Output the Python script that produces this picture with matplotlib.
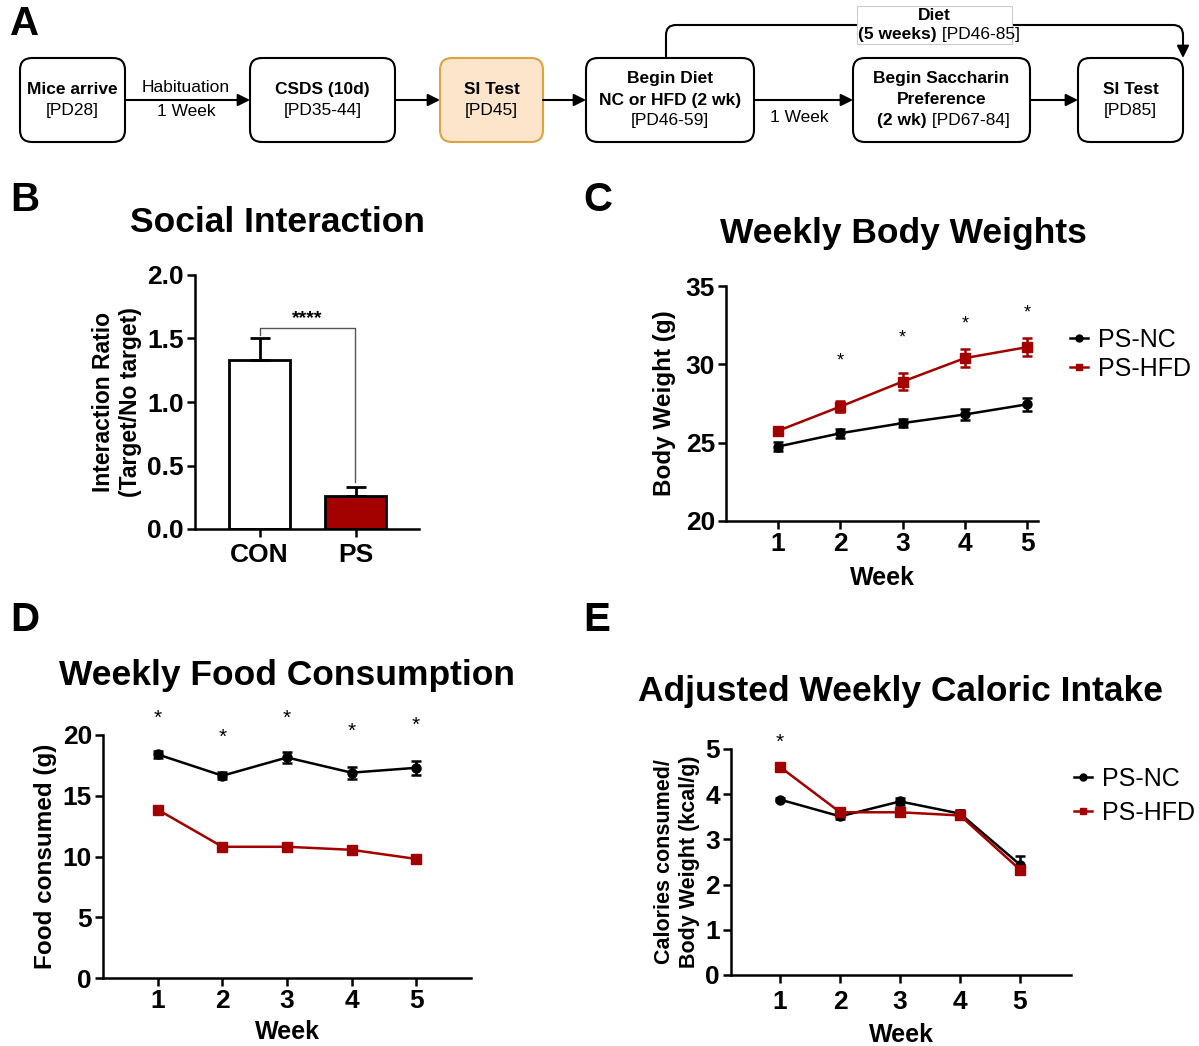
import matplotlib
matplotlib.use('Agg')
import matplotlib.pyplot as plt
from matplotlib.patches import FancyBboxPatch, Rectangle, PathPatch
from matplotlib.path import Path
from matplotlib.lines import Line2D

plt.rcParams['font.family'] = ['Liberation Sans', 'DejaVu Sans']

# ---- data ----
weeks = [1, 2, 3, 4, 5]

si_groups = ['CON', 'PS']
si_ratio = [1.33, 0.26]
si_err = [0.17, 0.07]

bw_nc = [24.75, 25.6, 26.25, 26.8, 27.45]
bw_nc_err = [0.3, 0.3, 0.25, 0.35, 0.4]
bw_hfd = [25.75, 27.3, 28.9, 30.4, 31.1]
bw_hfd_err = [0.25, 0.35, 0.55, 0.55, 0.55]
bw_star_y = [None, 30.2, 31.7, 32.6, 33.3]

food_nc = [18.4, 16.65, 18.15, 16.9, 17.3]
food_nc_err = [0.3, 0.3, 0.45, 0.5, 0.6]
food_hfd = [13.85, 10.8, 10.8, 10.55, 9.8]
food_hfd_err = [0.1, 0.2, 0.1, 0.15, 0.3]
food_star_y = [21.4, 19.8, 21.4, 20.3, 20.8]

cal_nc = [3.88, 3.51, 3.84, 3.57, 2.44]
cal_nc_err = [0.03, 0.05, 0.08, 0.07, 0.2]
cal_hfd = [4.6, 3.6, 3.6, 3.53, 2.33]
cal_hfd_err = [0.03, 0.05, 0.05, 0.05, 0.1]

RED = '#A30000'
W, H = 1199, 1046

fig = plt.figure(figsize=(W / 100, H / 100), dpi=100)


def px_axes(x0, y0, x1, y1):
    return fig.add_axes([x0 / W, 1 - y1 / H, (x1 - x0) / W, (y1 - y0) / H])


# ---- background axes: flowchart + panel letters ----
bg = fig.add_axes([0, 0, 1, 1])
bg.set_xlim(0, W)
bg.set_ylim(H, 0)
bg.set_axis_off()

for letter, (lx, ly) in zip('ABCDE', [(10, 24), (10, 200), (583, 200), (10, 620), (583, 620)]):
    bg.text(lx, ly, letter, fontsize=29, fontweight='bold', va='center', ha='left')

fs = 12.5


def box(x0, x1, lines, face='white', edge='black'):
    p = FancyBboxPatch((x0, 58), x1 - x0, 84, boxstyle='round,pad=0,rounding_size=12',
                       facecolor=face, edgecolor=edge, lw=1.5)
    bg.add_patch(p)
    cx = (x0 + x1) / 2
    n = len(lines)
    for i, (txt, wt) in enumerate(lines):
        y = 100 + (i - (n - 1) / 2) * 21
        bg.text(cx, y, txt, fontsize=fs, fontweight=wt, ha='center', va='center')


def arrow(x0, y0, x1, y1):
    bg.annotate('', xy=(x1, y1), xytext=(x0, y0),
                arrowprops=dict(arrowstyle='-|>', color='black', lw=1.5,
                                mutation_scale=18, shrinkA=0, shrinkB=0))


box(20, 125, [('Mice arrive', 'bold'), ('[PD28]', 'normal')])
box(250, 395, [('CSDS (10d)', 'bold'), ('[PD35-44]', 'normal')])
box(440, 543, [('SI Test', 'bold'), ('[PD45]', 'normal')], face='#FDE5CB', edge='#D9A441')
box(586, 754, [('Begin Diet', 'bold'), ('NC or HFD (2 wk)', 'bold'), ('[PD46-59]', 'normal')])
box(853, 1030, [('Begin Saccharin', 'bold'), ('Preference', 'bold'), ('', 'normal')])
bg.text(927, 121, '(2 wk)', fontsize=fs, fontweight='bold', ha='right', va='center')
bg.text(927, 121, ' [PD67-84]', fontsize=fs, ha='left', va='center')
box(1078, 1183, [('SI Test', 'bold'), ('[PD85]', 'normal')])

arrow(125, 100, 250, 100)
bg.text(186, 88, 'Habituation', fontsize=fs, ha='center', va='center')
bg.text(186, 112, '1 Week', fontsize=fs, ha='center', va='center')
arrow(395, 100, 440, 100)
arrow(543, 100, 586, 100)
arrow(754, 100, 853, 100)
bg.text(799, 117, '1 Week', fontsize=fs, ha='center', va='center')
arrow(1030, 100, 1078, 100)

# diet connector over the top
verts = [(666, 58), (666, 35), (666, 25), (676, 25), (1173, 25), (1183, 25), (1183, 35)]
codes = [Path.MOVETO, Path.LINETO, Path.CURVE3, Path.CURVE3, Path.LINETO, Path.CURVE3, Path.CURVE3]
bg.add_patch(PathPatch(Path(verts, codes), facecolor='none', edgecolor='black', lw=1.5))
arrow(1183, 35, 1183, 58)
bg.add_patch(Rectangle((857, 6), 155, 38, facecolor='white', edgecolor='#cccccc', lw=0.8, zorder=3))
bg.text(934, 16, 'Diet', fontsize=fs, fontweight='bold', ha='center', va='center', zorder=4)
bg.text(937, 35, '(5 weeks)', fontsize=fs, fontweight='bold', ha='right', va='center', zorder=4)
bg.text(937, 35, ' [PD46-85]', fontsize=fs, ha='left', va='center', zorder=4)

# panel titles
tfs = 25.5
bg.text(278, 223, 'Social Interaction', fontsize=tfs, fontweight='bold', ha='center', va='center')
bg.text(903, 233, 'Weekly Body Weights', fontsize=tfs, fontweight='bold', ha='center', va='center')
bg.text(287, 675, 'Weekly Food Consumption', fontsize=tfs, fontweight='bold', ha='center', va='center')
bg.text(900, 692, 'Adjusted Weekly Caloric Intake', fontsize=tfs, fontweight='bold', ha='center', va='center')


def style(ax, xpad=2):
    for s in ['top', 'right']:
        ax.spines[s].set_visible(False)
    for s in ['left', 'bottom']:
        ax.spines[s].set_linewidth(1.8)
    ax.tick_params(width=1.8, length=6, labelsize=19, pad=2)
    ax.tick_params(axis='x', pad=xpad)
    for lab in ax.get_xticklabels() + ax.get_yticklabels():
        lab.set_fontweight('bold')
    ax.patch.set_alpha(0)


# ---- B ----
axB = px_axes(195, 275, 419, 529)
axB.bar([0, 1], si_ratio, width=0.63, color=['white', RED], edgecolor='black', lw=2)
axB.errorbar([0, 1], si_ratio, yerr=[[0, 0], si_err], fmt='none', ecolor='black',
             elinewidth=2, capsize=7, capthick=2)
axB.plot([0, 0, 0.99, 0.99], [1.53, 1.58, 1.58, 0.37], color='#555555', lw=1)
axB.text(0.5, 1.59, '****', fontsize=14, fontweight='bold', ha='center', va='bottom')
axB.set_xlim(-0.672, 1.66)
axB.set_ylim(0, 2)
axB.set_yticks([0, 0.5, 1.0, 1.5, 2.0])
axB.set_yticklabels(['0.0', '0.5', '1.0', '1.5', '2.0'])
axB.set_xticks([0, 1])
axB.set_xticklabels(si_groups)
axB.set_ylabel('Interaction Ratio\n(Target/No target)', fontsize=16.5, fontweight='bold', labelpad=4)
style(axB, xpad=4)


def lines(ax, nc, nce, hfd, hfde, pad):
    ax.errorbar(weeks, nc, yerr=nce, color='black', marker='o', ms=6.5, lw=1.8,
                elinewidth=1.8, capsize=3.5, capthick=1.8, zorder=3)
    ax.errorbar(weeks, hfd, yerr=hfde, color=RED, marker='s', ms=7, lw=1.8,
                elinewidth=1.8, capsize=3.5, capthick=1.8, zorder=3)
    ax.set_xticks(weeks)
    ax.set_xlabel('Week', fontsize=18, fontweight='bold', labelpad=pad)


handles = [Line2D([], [], color='black', marker='o', ms=5, lw=1.8),
           Line2D([], [], color=RED, marker='s', ms=5, lw=1.8)]
labels = ['PS-NC', 'PS-HFD']

# ---- C ----
axC = px_axes(726, 286, 1038, 521)
lines(axC, bw_nc, bw_nc_err, bw_hfd, bw_hfd_err, pad=7)
for w, y in zip(weeks, bw_star_y):
    if y is not None:
        axC.text(w, y, '*', fontsize=13, ha='center', va='center')
axC.set_xlim(0.17, 5.17)
axC.set_ylim(20, 35)
axC.set_yticks([20, 25, 30, 35])
axC.set_ylabel('Body Weight (g)', fontsize=17.5, fontweight='bold', labelpad=7)
style(axC)
axC.legend(handles, labels, loc='upper left', bbox_to_anchor=(1070 / W, 1 - 328 / H),
           bbox_transform=fig.transFigure, frameon=False, fontsize=18, handlelength=0.7,
           handletextpad=0.4, borderaxespad=0, borderpad=0, labelspacing=0.2)

# ---- D ----
axD = px_axes(103, 735, 471, 978)
lines(axD, food_nc, food_nc_err, food_hfd, food_hfd_err, pad=5)
for w, y in zip(weeks, food_star_y):
    axD.text(w, y, '*', fontsize=15, ha='center', va='center', clip_on=False)
axD.set_xlim(0.15, 5.85)
axD.set_ylim(0, 20)
axD.set_yticks([0, 5, 10, 15, 20])
axD.set_ylabel('Food consumed (g)', fontsize=17.5, fontweight='bold', labelpad=4)
style(axD)

# ---- E ----
axE = px_axes(731, 749, 1071, 975)
lines(axE, cal_nc, cal_nc_err, cal_hfd, cal_hfd_err, pad=6)
axE.text(1, 5.15, '*', fontsize=15, ha='center', va='center', clip_on=False)
axE.set_xlim(0.18, 5.85)
axE.set_ylim(0, 5)
axE.set_yticks([0, 1, 2, 3, 4, 5])
axE.set_ylabel('Calories consumed/\nBody Weight (kcal/g)', fontsize=15.5, fontweight='bold', labelpad=4)
style(axE, xpad=5)
axE.legend(handles, labels, loc='upper left', bbox_to_anchor=(1074 / W, 1 - 767 / H),
           bbox_transform=fig.transFigure, frameon=False, fontsize=18, handlelength=0.7,
           handletextpad=0.4, borderaxespad=0, borderpad=0, labelspacing=0.4)

fig.savefig('out.png', dpi=100)
